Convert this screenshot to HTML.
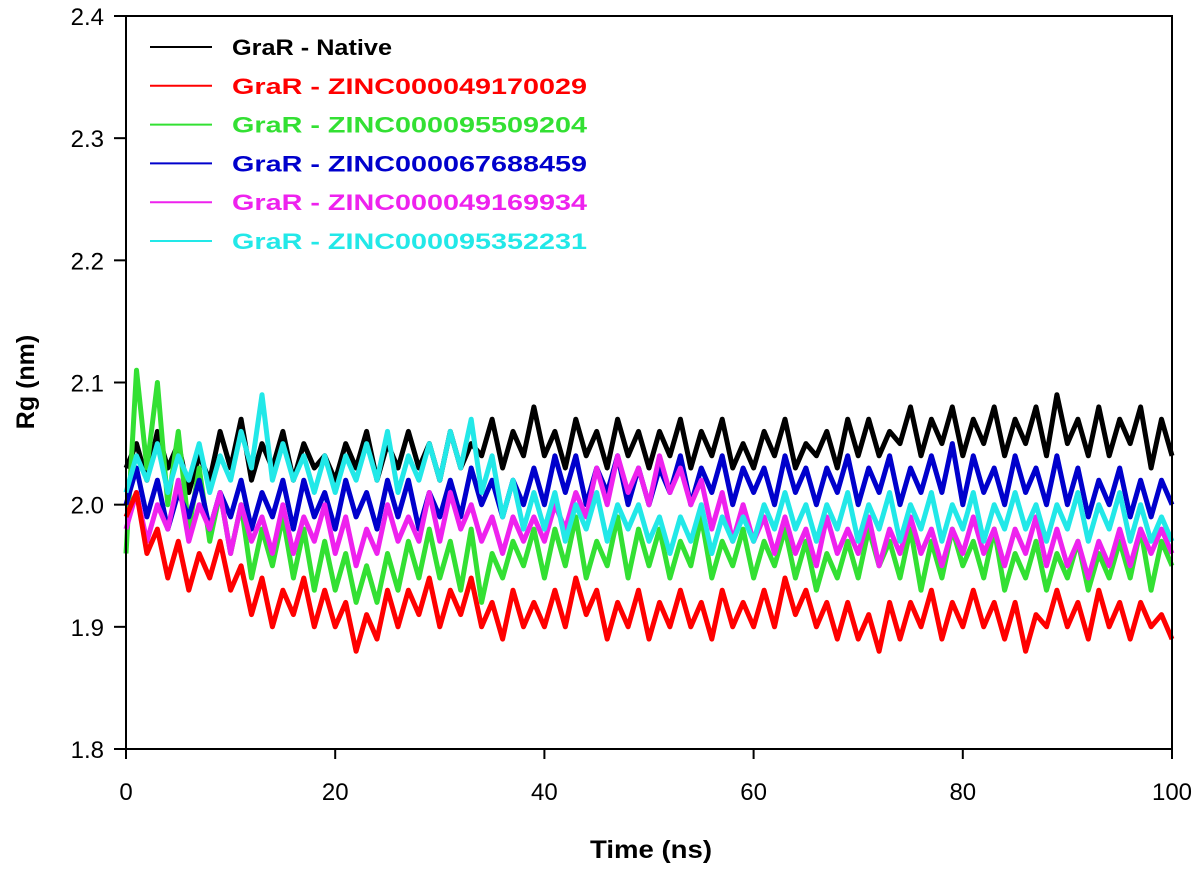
<!DOCTYPE html>
<html><head><meta charset="utf-8"><style>
body{margin:0;background:#fff;}
svg text{font-family:"Liberation Sans",Arial,sans-serif;}
</style></head><body>
<svg id="chart" width="1200" height="867" xmlns="http://www.w3.org/2000/svg">
<g id="series"></g>
<rect x="126" y="16" width="1046" height="733" fill="none" stroke="#000" stroke-width="2"/>
<g id="axes"></g>
<text x="651" y="858" font-size="25" font-weight="bold" text-anchor="middle" textLength="122" lengthAdjust="spacingAndGlyphs">Time (ns)</text>
<text transform="translate(34,382) rotate(-90)" font-size="25" font-weight="bold" text-anchor="middle">Rg (nm)</text>
<g id="legend"></g>
</svg>
<script>
const xTicks=[0,20,40,60,80,100];
const yTicks=[1.8,1.9,2.0,2.1,2.2,2.3,2.4];
const seriesNames=["GraR - Native","GraR - ZINC000049170029","GraR - ZINC000095509204","GraR - ZINC000067688459","GraR - ZINC000049169934","GraR - ZINC000095352231"];
const seriesColors=["#000000","#ff0000","#33e033","#0000cc","#ee22ee","#22e8e8"];
const black=[2.03,2.05,2.02,2.06,2.03,2.05,2.01,2.04,2.02,2.06,2.03,2.07,2.02,2.05,2.03,2.06,2.02,2.05,2.03,2.04,2.02,2.05,2.03,2.06,2.02,2.05,2.03,2.06,2.03,2.05,2.02,2.06,2.03,2.05,2.04,2.07,2.03,2.06,2.04,2.08,2.04,2.06,2.03,2.07,2.04,2.06,2.03,2.07,2.04,2.06,2.03,2.06,2.04,2.07,2.03,2.06,2.04,2.07,2.03,2.05,2.03,2.06,2.04,2.07,2.03,2.05,2.04,2.06,2.03,2.07,2.04,2.07,2.04,2.06,2.05,2.08,2.04,2.07,2.05,2.08,2.04,2.07,2.05,2.08,2.04,2.07,2.05,2.08,2.04,2.09,2.05,2.07,2.04,2.08,2.04,2.07,2.05,2.08,2.03,2.07,2.04];
const red=[1.99,2.01,1.96,1.98,1.94,1.97,1.93,1.96,1.94,1.97,1.93,1.95,1.91,1.94,1.90,1.93,1.91,1.94,1.90,1.93,1.90,1.92,1.88,1.91,1.89,1.93,1.90,1.93,1.91,1.94,1.90,1.93,1.91,1.94,1.90,1.92,1.89,1.93,1.90,1.92,1.90,1.93,1.90,1.94,1.91,1.93,1.89,1.92,1.90,1.93,1.89,1.92,1.90,1.93,1.90,1.92,1.89,1.93,1.90,1.92,1.90,1.93,1.90,1.94,1.91,1.93,1.90,1.92,1.89,1.92,1.89,1.91,1.88,1.92,1.89,1.92,1.90,1.93,1.89,1.92,1.90,1.93,1.90,1.92,1.89,1.92,1.88,1.91,1.90,1.93,1.90,1.92,1.89,1.93,1.90,1.92,1.89,1.92,1.90,1.91,1.89];
const green=[1.96,2.11,2.03,2.10,2.00,2.06,1.98,2.03,1.97,2.01,1.96,2.00,1.94,1.98,1.95,1.99,1.94,1.98,1.93,1.97,1.93,1.96,1.92,1.95,1.92,1.96,1.93,1.97,1.94,1.98,1.94,1.97,1.93,1.98,1.92,1.96,1.94,1.97,1.95,1.98,1.94,1.98,1.95,1.99,1.94,1.97,1.95,1.99,1.94,1.98,1.95,1.98,1.94,1.97,1.95,1.99,1.94,1.97,1.95,1.98,1.94,1.97,1.95,1.98,1.94,1.97,1.93,1.96,1.94,1.97,1.94,1.98,1.95,1.97,1.94,1.98,1.93,1.97,1.94,1.98,1.95,1.97,1.94,1.98,1.93,1.96,1.94,1.97,1.93,1.96,1.94,1.97,1.93,1.96,1.94,1.97,1.94,1.98,1.93,1.97,1.95];
const blue=[2.00,2.03,1.99,2.02,1.98,2.01,1.99,2.02,1.98,2.01,1.99,2.02,1.98,2.01,1.99,2.02,1.98,2.02,1.99,2.01,1.98,2.02,1.99,2.01,1.98,2.02,1.99,2.02,1.98,2.01,1.99,2.02,1.99,2.03,2.00,2.02,1.99,2.02,2.00,2.03,2.00,2.04,2.01,2.04,2.00,2.03,2.01,2.04,2.00,2.03,2.00,2.03,2.01,2.04,2.00,2.03,2.01,2.04,2.00,2.03,2.01,2.03,2.00,2.04,2.01,2.03,2.00,2.03,2.01,2.04,2.00,2.03,2.01,2.04,2.00,2.03,2.01,2.04,2.01,2.05,2.00,2.04,2.01,2.03,2.00,2.04,2.01,2.03,2.00,2.04,2.00,2.03,1.99,2.02,2.00,2.03,1.99,2.02,1.99,2.02,2.00];
const magenta=[1.98,2.01,1.97,2.00,1.98,2.02,1.97,2.00,1.98,2.01,1.96,2.00,1.97,1.99,1.96,2.00,1.96,1.99,1.97,2.00,1.96,1.99,1.95,1.98,1.96,2.00,1.97,1.99,1.97,2.01,1.97,2.01,1.98,2.00,1.97,1.99,1.96,1.99,1.97,1.99,1.97,2.00,1.98,2.01,1.99,2.03,2.00,2.04,2.01,2.03,2.00,2.04,2.01,2.03,2.00,2.02,1.98,2.01,1.97,2.00,1.97,1.99,1.96,1.99,1.96,1.98,1.95,1.99,1.96,1.98,1.96,1.99,1.95,1.98,1.96,1.99,1.96,1.98,1.95,1.98,1.96,1.99,1.96,1.98,1.95,1.98,1.96,1.99,1.95,1.98,1.95,1.97,1.94,1.97,1.95,1.98,1.95,1.98,1.96,1.98,1.96];
const cyan=[2.01,2.04,2.02,2.05,2.01,2.04,2.02,2.05,2.01,2.04,2.02,2.06,2.03,2.09,2.02,2.05,2.02,2.04,2.01,2.04,2.01,2.04,2.02,2.05,2.02,2.06,2.01,2.04,2.02,2.05,2.02,2.06,2.03,2.07,2.01,2.04,1.99,2.02,1.98,2.01,1.98,2.01,1.97,2.00,1.98,2.01,1.97,2.00,1.98,2.00,1.97,1.99,1.96,1.99,1.97,2.00,1.96,1.99,1.97,1.99,1.97,2.00,1.98,2.01,1.98,2.00,1.97,2.00,1.98,2.01,1.97,2.00,1.98,2.01,1.97,2.00,1.98,2.01,1.97,2.00,1.98,2.01,1.97,2.00,1.98,2.01,1.98,2.00,1.97,2.00,1.98,2.01,1.97,2.00,1.98,2.01,1.97,2.00,1.97,1.99,1.97];
const allSeries=[black,red,green,blue,magenta,cyan];
const drawOrder=[0,2,3,4,5,1];
const NS="http://www.w3.org/2000/svg";
const X0=126,X1=1172,Y0=749,Y1=16;
function xs(t){return X0+(t-0)/(100-0)*(X1-X0);}
function ys(v){return Y0-(v-1.8)/(2.4-1.8)*(Y0-Y1);}
const sg=document.getElementById('series');
drawOrder.forEach(i=>{
  const arr=allSeries[i];
  const n=arr.length;
  const pts=arr.map((v,k)=>xs(k*100/(n-1)).toFixed(1)+","+ys(v).toFixed(1)).join(" ");
  const pl=document.createElementNS(NS,'polyline');
  pl.setAttribute('points',pts);
  pl.setAttribute('fill','none');
  pl.setAttribute('stroke',seriesColors[i]);
  pl.setAttribute('stroke-width','5');
  pl.setAttribute('stroke-linejoin','round');
  
  
  sg.appendChild(pl);
});
const ag=document.getElementById('axes');
xTicks.forEach(t=>{
  const l=document.createElementNS(NS,'line');
  l.setAttribute('x1',xs(t));l.setAttribute('x2',xs(t));l.setAttribute('y1',Y0);l.setAttribute('y2',Y0+10);
  l.setAttribute('stroke','#000');l.setAttribute('stroke-width','2');
  
  
  ag.appendChild(l);
  const tx=document.createElementNS(NS,'text');
  tx.setAttribute('x',xs(t));tx.setAttribute('y',800);tx.setAttribute('font-size','24');tx.setAttribute('text-anchor','middle');
  tx.textContent=t;
  
  
  ag.appendChild(tx);
});
yTicks.forEach(v=>{
  const l=document.createElementNS(NS,'line');
  l.setAttribute('x1',X0-12);l.setAttribute('x2',X0);l.setAttribute('y1',ys(v));l.setAttribute('y2',ys(v));
  l.setAttribute('stroke','#000');l.setAttribute('stroke-width','2');
  
  
  ag.appendChild(l);
  const tx=document.createElementNS(NS,'text');
  tx.setAttribute('x',104);tx.setAttribute('y',ys(v)+9);tx.setAttribute('font-size','24');tx.setAttribute('text-anchor','end');
  tx.textContent=v.toFixed(1);
  
  
  ag.appendChild(tx);
});
const lg=document.getElementById('legend');
seriesNames.forEach((nm,i)=>{
  const y=47+i*38.8;
  const l=document.createElementNS(NS,'line');
  l.setAttribute('x1',150);l.setAttribute('x2',212);l.setAttribute('y1',y);l.setAttribute('y2',y);
  l.setAttribute('stroke',seriesColors[i]);l.setAttribute('stroke-width','2');
  
  
  lg.appendChild(l);
  const tx=document.createElementNS(NS,'text');
  tx.setAttribute('x',232);tx.setAttribute('y',y+8);tx.setAttribute('font-size','22');tx.setAttribute('font-weight','bold');
  tx.setAttribute('fill',seriesColors[i]);
  tx.setAttribute('lengthAdjust','spacingAndGlyphs');
  tx.setAttribute('textLength', i===0 ? '160' : '355');
  tx.textContent=nm;
  
  
  lg.appendChild(tx);
});
</script>
</body></html>
